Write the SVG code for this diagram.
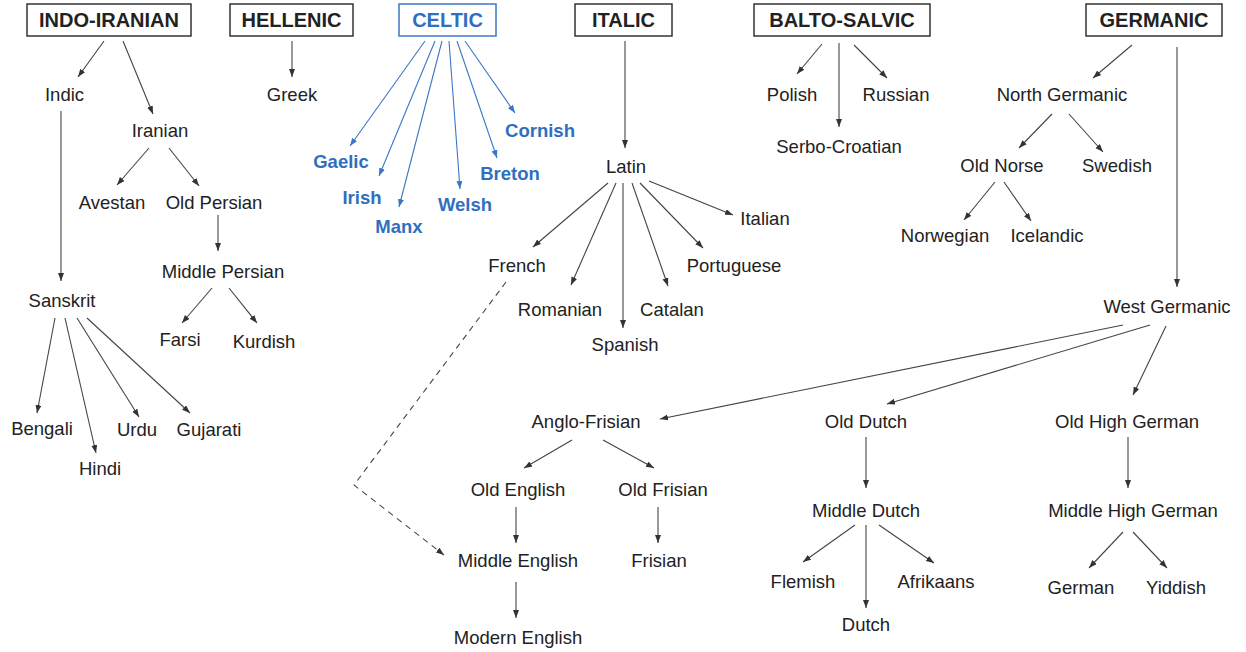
<svg xmlns="http://www.w3.org/2000/svg" width="1246" height="652" viewBox="0 0 1246 652">
<style>
text{font-family:"Liberation Sans",Arial,sans-serif;font-size:18.5px;fill:#222;text-anchor:middle}
.hd{font-weight:bold;font-size:20px}
.bl{fill:#2f6fc0;font-weight:bold;font-size:18.5px}
.box{fill:#fff;stroke:#333;stroke-width:1.5}
.bbox{fill:#fff;stroke:#3a78c6;stroke-width:1.5}
.c line,.c path{stroke:#444;stroke-width:1.1;fill:none;marker-end:url(#a)}
.c .b{stroke:#3a78c6;marker-end:url(#ab)}
.c .d{stroke-dasharray:6,5}
</style>
<defs>
<marker id="a" markerUnits="userSpaceOnUse" markerWidth="9" markerHeight="7" refX="8" refY="3" orient="auto"><path d="M0,0 L8,3 L0,6 z" fill="#333"/></marker>
<marker id="ab" markerUnits="userSpaceOnUse" markerWidth="9" markerHeight="7" refX="8" refY="3" orient="auto"><path d="M0,0 L8,3 L0,6 z" fill="#3a78c6"/></marker>
</defs>
<rect width="1246" height="652" fill="#fff"/>
<g id="roots">
<g id="indo-iranian"><rect class="box" x="27" y="4" width="164" height="32"/><text class="hd" x="109" y="27">INDO-IRANIAN</text></g>
<g id="hellenic"><rect class="box" x="230" y="4" width="123" height="32"/><text class="hd" x="291.5" y="27">HELLENIC</text></g>
<g id="celtic"><rect class="bbox" x="399" y="4" width="97" height="32"/><text class="hd" x="447.5" y="27" style="fill:#2f6fc0">CELTIC</text></g>
<g id="italic"><rect class="box" x="575" y="4" width="97" height="32"/><text class="hd" x="623.5" y="27">ITALIC</text></g>
<g id="balto-salvic"><rect class="box" x="754" y="4" width="176" height="32"/><text class="hd" x="842" y="27">BALTO-SALVIC</text></g>
<g id="germanic"><rect class="box" x="1086" y="4" width="136" height="32"/><text class="hd" x="1154" y="27">GERMANIC</text></g>
</g>
<g class="c" id="connectors">
<line x1="104" y1="41" x2="78" y2="77"/>
<line x1="123" y1="41" x2="153" y2="114"/>
<line x1="292" y1="41" x2="292" y2="77"/>
<line x1="61" y1="111" x2="61" y2="281"/>
<line x1="149" y1="148" x2="117" y2="185"/>
<line x1="169" y1="148" x2="199" y2="186"/>
<line x1="218" y1="215" x2="218" y2="251"/>
<line x1="212" y1="288" x2="182" y2="323"/>
<line x1="229" y1="288" x2="257" y2="323"/>
<line x1="55" y1="318" x2="37" y2="413"/>
<line x1="65" y1="318" x2="96" y2="453"/>
<line x1="77" y1="318" x2="139" y2="417"/>
<line x1="87" y1="318" x2="190" y2="413"/>
<line class="b" x1="425" y1="41" x2="350" y2="146"/>
<line class="b" x1="435" y1="41" x2="379" y2="176"/>
<line class="b" x1="442" y1="41" x2="399" y2="207"/>
<line class="b" x1="449" y1="41" x2="460" y2="189"/>
<line class="b" x1="457" y1="41" x2="497" y2="158"/>
<line class="b" x1="465" y1="41" x2="515" y2="113"/>
<line x1="625" y1="41" x2="625" y2="148"/>
<line x1="649" y1="181" x2="733" y2="215"/>
<line x1="608" y1="183" x2="533" y2="247"/>
<line x1="616" y1="183" x2="571" y2="285"/>
<line x1="623" y1="183" x2="623" y2="328"/>
<line x1="632" y1="183" x2="668" y2="286"/>
<line x1="640" y1="183" x2="703" y2="248"/>
<line x1="822" y1="44" x2="797" y2="74"/>
<line x1="839" y1="43" x2="839" y2="127"/>
<line x1="854" y1="45" x2="887" y2="78"/>
<line x1="1132" y1="45" x2="1093" y2="78"/>
<line x1="1177" y1="47" x2="1177" y2="287"/>
<line x1="1052" y1="114" x2="1019" y2="148"/>
<line x1="1069" y1="114" x2="1103" y2="152"/>
<line x1="995" y1="182" x2="964" y2="220"/>
<line x1="1004" y1="182" x2="1031" y2="221"/>
<line x1="1123" y1="325" x2="660" y2="419"/>
<line x1="1150" y1="325" x2="887" y2="404"/>
<line x1="1166" y1="326" x2="1133" y2="395"/>
<line x1="866" y1="437" x2="866" y2="488"/>
<line x1="1128" y1="437" x2="1128" y2="488"/>
<line x1="855" y1="525" x2="803" y2="562"/>
<line x1="866" y1="525" x2="866" y2="608"/>
<line x1="879" y1="525" x2="934" y2="563"/>
<line x1="1123" y1="532" x2="1089" y2="568"/>
<line x1="1133" y1="532" x2="1167" y2="568"/>
<line x1="572" y1="440" x2="524" y2="468"/>
<line x1="603" y1="440" x2="654" y2="468"/>
<line x1="516" y1="507" x2="516" y2="543"/>
<line x1="658" y1="507" x2="658" y2="543"/>
<line x1="516" y1="582" x2="516" y2="618"/>
<path class="d" d="M506,282 L354,485 L444,555"/>
</g>
<g id="nodes">
<g id="n-indic"><text x="64.5" y="101">Indic</text></g>
<g id="n-iranian"><text x="160" y="137">Iranian</text></g>
<g id="n-greek"><text x="292" y="101">Greek</text></g>
<g id="n-avestan"><text x="112" y="209">Avestan</text></g>
<g id="n-oldpersian"><text x="214" y="209">Old Persian</text></g>
<g id="n-middlepersian"><text x="223" y="278">Middle Persian</text></g>
<g id="n-sanskrit"><text x="62" y="307">Sanskrit</text></g>
<g id="n-farsi"><text x="180" y="346">Farsi</text></g>
<g id="n-kurdish"><text x="264" y="348">Kurdish</text></g>
<g id="n-bengali"><text x="42" y="435">Bengali</text></g>
<g id="n-hindi"><text x="100" y="475">Hindi</text></g>
<g id="n-urdu"><text x="137" y="436">Urdu</text></g>
<g id="n-gujarati"><text x="209" y="436">Gujarati</text></g>
<g id="n-gaelic"><text class="bl" x="341" y="168">Gaelic</text></g>
<g id="n-irish"><text class="bl" x="362" y="204">Irish</text></g>
<g id="n-manx"><text class="bl" x="399" y="233">Manx</text></g>
<g id="n-welsh"><text class="bl" x="465" y="211">Welsh</text></g>
<g id="n-breton"><text class="bl" x="510" y="180">Breton</text></g>
<g id="n-cornish"><text class="bl" x="540" y="137">Cornish</text></g>
<g id="n-latin"><text x="626" y="173">Latin</text></g>
<g id="n-italian"><text x="765" y="225">Italian</text></g>
<g id="n-french"><text x="517" y="272">French</text></g>
<g id="n-portuguese"><text x="734" y="272">Portuguese</text></g>
<g id="n-romanian"><text x="560" y="316">Romanian</text></g>
<g id="n-catalan"><text x="672" y="316">Catalan</text></g>
<g id="n-spanish"><text x="625" y="351">Spanish</text></g>
<g id="n-polish"><text x="792" y="101">Polish</text></g>
<g id="n-russian"><text x="896" y="101">Russian</text></g>
<g id="n-serbocroatian"><text x="839" y="153">Serbo-Croatian</text></g>
<g id="n-northgermanic"><text x="1062" y="101">North Germanic</text></g>
<g id="n-oldnorse"><text x="1002" y="172">Old Norse</text></g>
<g id="n-swedish"><text x="1117" y="172">Swedish</text></g>
<g id="n-norwegian"><text x="945" y="242">Norwegian</text></g>
<g id="n-icelandic"><text x="1047" y="242">Icelandic</text></g>
<g id="n-westgermanic"><text x="1167" y="313">West Germanic</text></g>
<g id="n-anglofrisian"><text x="586" y="428">Anglo-Frisian</text></g>
<g id="n-olddutch"><text x="866" y="428">Old Dutch</text></g>
<g id="n-oldhighgerman"><text x="1127" y="428">Old High German</text></g>
<g id="n-oldenglish"><text x="518" y="496">Old English</text></g>
<g id="n-oldfrisian"><text x="663" y="496">Old Frisian</text></g>
<g id="n-middleenglish"><text x="518" y="567">Middle English</text></g>
<g id="n-frisian"><text x="659" y="567">Frisian</text></g>
<g id="n-modernenglish"><text x="518" y="644">Modern English</text></g>
<g id="n-middledutch"><text x="866" y="517">Middle Dutch</text></g>
<g id="n-middlehighgerman"><text x="1133" y="517">Middle High German</text></g>
<g id="n-flemish"><text x="803" y="588">Flemish</text></g>
<g id="n-afrikaans"><text x="936" y="588">Afrikaans</text></g>
<g id="n-dutch"><text x="866" y="631">Dutch</text></g>
<g id="n-german"><text x="1081" y="594">German</text></g>
<g id="n-yiddish"><text x="1176" y="594">Yiddish</text></g>
</g>
</svg>
